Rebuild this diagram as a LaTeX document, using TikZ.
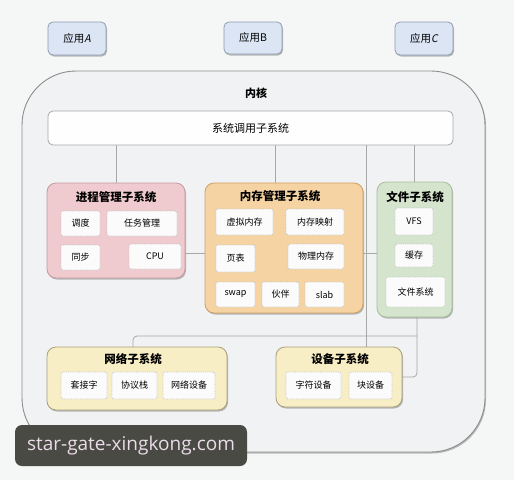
\documentclass[tikz,border=0pt]{standalone}
\usepackage{fontspec}
\setmainfont{Noto Sans CJK SC}
\newfontfamily\slfont[FakeSlant=0.2]{Noto Sans CJK SC}
\newfontfamily\wmfont{Open Sans}
\usetikzlibrary{shadows,calc}
\definecolor{bgc}{HTML}{F5F7F6}
\definecolor{kernfill}{HTML}{F1F2F3}
\definecolor{kernline}{HTML}{8C8C8C}
\definecolor{appfill}{HTML}{DBE5F4}
\definecolor{appline}{HTML}{8F9BB0}
\definecolor{procfill}{HTML}{EFCACE}
\definecolor{procline}{HTML}{C49AA0}
\definecolor{memfill}{HTML}{F6D3A2}
\definecolor{memline}{HTML}{CF9F64}
\definecolor{filefill}{HTML}{D4E4CD}
\definecolor{fileline}{HTML}{A6BF9C}
\definecolor{yelfill}{HTML}{F8EEC6}
\definecolor{yelline}{HTML}{A89F7A}
\definecolor{connc}{HTML}{A8A8A8}
\definecolor{innerline}{HTML}{C4C4C4}
\definecolor{wmfill}{HTML}{4A4A44}
\definecolor{wmtext}{HTML}{EADCE8}
\tikzset{
  sh/.style={drop shadow={shadow xshift=1pt,shadow yshift=-1.5pt,opacity=0.25,fill=black}},
  sized/.style 2 args={minimum width=#1pt,minimum height=#2pt,inner sep=0pt,outer sep=0pt},
  appbox/.style={draw=appline,fill=appfill,rounded corners=5pt,line width=0.8pt,sh,font=\fontsize{10.5}{12}\selectfont},
  subbox/.style={rounded corners=9pt,line width=0.8pt,sh},
  inbox/.style={draw=innerline,fill=white!97!gray,densely dotted,line width=0.8pt,rounded corners=2pt,font=\fontsize{9}{10}\selectfont},
  ttl/.style={font=\bfseries\fontsize{11.5}{13}\selectfont,inner sep=0pt},
  conn/.style={draw=connc,line width=0.8pt},
}
\begin{document}
\begin{tikzpicture}[x=1pt,y=-1pt]
\useasboundingbox (0,0) rectangle (514,480);
\fill[bgc] (0,0) rectangle (514,480);

% applications
\node[appbox,sized={58}{33}] (appA) at (77,38.5) {应用{\slfont A}};
\node[appbox,sized={58}{32}] (appB) at (253,38) {应用B};
\node[appbox,sized={58}{33}] (appC) at (424,38.5) {应用{\slfont C}};

% kernel
\node[draw=kernline,fill=kernfill,line width=0.9pt,rounded corners=54pt,sh,sized={463}{381}] (kern) at (253.5,261.5) {};
\node[font=\bfseries\fontsize{11}{13}\selectfont,inner sep=0pt] (kernT) at (256,93) {内核};

% system call bar
\node[draw=connc,fill=white!99!gray,rounded corners=5pt,line width=0.8pt,sized={405}{34},font=\fontsize{11}{13}\selectfont] (sys) at (250.5,128) {系统调用子系统};

\coordinate (j) at (417,336);

% subsystem boxes
\node[subbox,draw=procline,fill=procfill,sized={138}{95}] (proc) at (116,230.5) {};
\node[subbox,draw=memline,fill=memfill,sized={158}{130}] (mem) at (284,248) {};
\node[subbox,draw=fileline,fill=filefill,sized={75}{135}] (file) at (414.5,249.5) {};
\node[subbox,draw=yelline,fill=yelfill,sized={180}{63}] (net) at (137,378.5) {};
\node[subbox,draw=yelline,fill=yelfill,sized={126}{60}] (dev) at (339,377) {};

% connectors
\draw[conn] (proc.north) -- (proc.north |- sys.south);
\draw[conn] ([xshift=-9pt]mem.north) -- ([xshift=-9pt]mem.north |- sys.south);
\draw[conn] (file.north) -- (file.north |- sys.south);
\draw[conn] ([xshift=27pt]dev.north) -- ([xshift=27pt]dev.north |- sys.south);
\draw[conn] ([yshift=-5pt]mem.west) -- ([yshift=-5pt]mem.west -| proc.east);
\draw[conn] ([yshift=-5pt]mem.east) -- ([yshift=-5pt]mem.east -| file.west);
\draw[conn,rounded corners=4pt] ([xshift=-4pt]net.north) |- (j);
\draw[conn,rounded corners=4pt] ([xshift=2.5pt]file.south) |- (dev.east);

% titles
\node[ttl] (procT) at (116,197) {进程管理子系统};
\node[ttl] (memT) at (280,196) {内存管理子系统};
\node[ttl] (fileT) at (415,197) {文件子系统};
\node[ttl] (netT) at (133,359) {网络子系统};
\node[ttl] (devT) at (340,359) {设备子系统};

% process inner
\node[inbox,sized={39}{25}] (p1) at (80.5,223.5) {调度};
\node[inbox,sized={70}{25}] (p2) at (142,223.5) {任务管理};
\node[inbox,sized={39}{25}] (p3) at (80.5,257.5) {同步};
\node[inbox,sized={52}{25}] (p4) at (155,256.5) {CPU};

% memory inner
\node[inbox,sized={57}{26}] (m1) at (244.5,222) {虚拟内存};
\node[inbox,sized={58}{26}] (m2) at (315,222) {内存映射};
\node[inbox,sized={39}{27}] (m3) at (235.5,258.5) {页表};
\node[inbox,sized={56}{25}] (m4) at (316,256.5) {物理内存};
\node[inbox,sized={39}{25}] (m5) at (235.5,294.5) {swap};
\node[inbox,sized={37}{25}] (m6) at (280.5,294.5) {伙伴};
\node[inbox,sized={39}{25}] (m7) at (324.5,294.5) {slab};

% file inner
\node[inbox,sized={38}{27}] (f1) at (414,221.5) {VFS};
\node[inbox,sized={38}{23}] (f2) at (414,255.5) {缓存};
\node[inbox,sized={59}{30}] (f3) at (415.5,292) {文件系统};

% network inner
\node[inbox,sized={46}{27}] (n1) at (84,385.5) {套接字};
\node[inbox,sized={45}{27}] (n2) at (134.5,385.5) {协议栈};
\node[inbox,sized={52}{27}] (n3) at (189,385.5) {网络设备};

% device inner
\node[inbox,sized={55}{27}] (d1) at (313.5,385.5) {字符设备};
\node[inbox,sized={43}{27}] (d2) at (370.5,385.5) {块设备};

% watermark
\node[fill=wmfill,rounded corners=7pt,sized={232}{41},text=wmtext,font=\wmfont\fontsize{19}{22}\selectfont] (wm) at (131,445.5) {star-gate-xingkong.com};
\end{tikzpicture}
\end{document}
